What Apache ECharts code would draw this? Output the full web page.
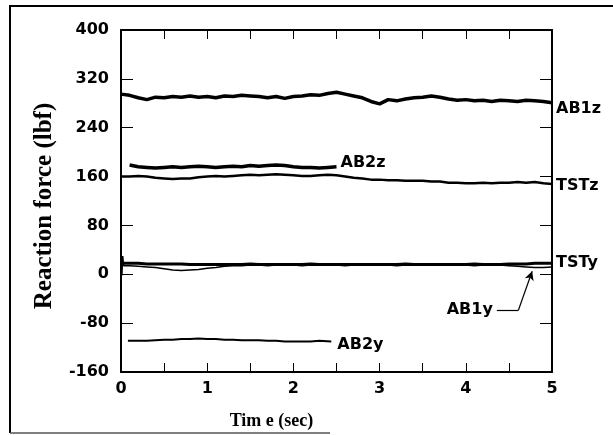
<!DOCTYPE html>
<html>
<head>
<meta charset="utf-8">
<script src="https://cdn.jsdelivr.net/npm/echarts@6/dist/echarts.min.js"></script>
<style>
html,body{margin:0;padding:0;background:#fff;}
#chart{width:613px;height:435px;}
</style>
</head>
<body>
<div id="chart"></div>
<script>
// Time grid (sec)
var times = [0,0.1,0.2,0.3,0.4,0.5,0.6,0.7,0.8,0.9,1.0,1.1,1.2,1.3,1.4,1.5,1.6,1.7,1.8,1.9,2.0,2.1,2.2,2.3,2.4,2.5,2.6,2.7,2.8,2.9,3.0,3.1,3.2,3.3,3.4,3.5,3.6,3.7,3.8,3.9,4.0,4.1,4.2,4.3,4.4,4.5,4.6,4.7,4.8,4.9,5.0];

// Series values (lbf)
var AB1z = [295,293,289,286,290,289,291,290,292,290,291,289,292,291,293,292,291,289,291,288,291,292,294,293,296,298,295,292,289,283,279,286,284,287,289,290,292,290,287,285,286,284,285,283,285,284,283,285,284,283,281];
var TSTz = [160,160,161,160,158,157,156,157,157,159,160,161,160,161,162,163,162,163,164,163,162,161,161,162,163,162,160,158,157,155,155,154,154,153,153,153,152,152,150,150,149,149,150,149,150,150,151,150,151,149,148];
var TSTy = [18,18,18,17,17,17,17,17,16,16,16,16,16,16,16,17,16,16,16,16,16,16,17,16,16,16,16,16,16,16,16,16,16,17,16,16,16,16,16,16,16,17,16,16,16,17,17,17,18,18,18];
var AB1y = [14,14,13,12,11,9,7,6,7,8,10,11,13,14,14,15,15,14,15,15,15,14,15,15,15,15,14,15,15,15,15,15,14,15,15,15,15,15,15,15,15,14,15,15,15,14,13,12,11,11,12];
var AB1ySpikeT = [0,0.01,0.02,0.03];
var AB1ySpikeV = [38,-2,30,14];

var AB2zTimes = [0.1,0.2,0.3,0.4,0.5,0.6,0.7,0.8,0.9,1.0,1.1,1.2,1.3,1.4,1.5,1.6,1.7,1.8,1.9,2.0,2.1,2.2,2.3,2.4,2.5];
var AB2z = [179,176,175,174,175,176,175,176,177,176,175,176,177,176,178,177,178,179,178,176,175,175,174,175,176];

var AB2yTimes = [0.08,0.2,0.3,0.4,0.5,0.6,0.7,0.8,0.9,1.0,1.1,1.2,1.3,1.4,1.5,1.6,1.7,1.8,1.9,2.0,2.1,2.2,2.3,2.44];
var AB2y = [-109,-109,-109,-108,-107,-107,-106,-106,-105,-106,-106,-107,-107,-108,-108,-108,-109,-109,-110,-110,-110,-110,-109,-110];

// Axis ticks
var xTicks = ['0','1','2','3','4','5'];
var yTicks = ['-160','-80','0','80','160','240','320','400'];

// AB1y annotation leader (data coordinates)
var ab1yLeaderStart = [4.36,-59];
var ab1yLeaderBend = [4.61,-59];
var ab1yLeaderTip = [4.77,5];

function pairs(t, v){ return t.map(function(x,i){ return [x, v[i]]; }); }

var tickFont = {fontFamily:'DejaVu Sans', fontWeight:'bold', fontSize:16, color:'#000'};
var lblFont = {fontFamily:'DejaVu Sans', fontWeight:'bold', fontSize:16, color:'#000'};

function line(name, data, width, endLabel){
  var s = {
    name:name, type:'line', data:data, symbol:'none', smooth:false,
    lineStyle:{color:'#000', width:width}, z:3, silent:true, animation:false
  };
  if (endLabel) {
    s.endLabel = Object.assign({show:true, formatter:name, distance:4}, lblFont, endLabel);
  }
  return s;
}

var chart = echarts.init(document.getElementById('chart'));
chart.setOption({
  animation:false,
  backgroundColor:'#fff',
  grid:{left:121, top:30, right:61, bottom:62},
  xAxis:[{
    type:'value', min:0, max:5, interval:0.5, position:'bottom',
    axisLine:{show:true, onZero:false, lineStyle:{color:'#000', width:2}},
    axisTick:{show:true, inside:true, length:9, lineStyle:{color:'#000', width:1}},
    axisLabel:Object.assign({margin:9, formatter:function(v){ return (v % 1 === 0) ? xTicks[v] : ''; }}, tickFont),
    splitLine:{show:false},
    name:'Tim e (sec)', nameLocation:'middle', nameGap:40,
    nameTextStyle:{fontFamily:'Liberation Serif', fontWeight:'bold', fontSize:18, color:'#000', padding:[0,130,0,0]}
  },{
    type:'value', min:0, max:5, interval:0.5, position:'top',
    axisLine:{show:true, onZero:false, lineStyle:{color:'#000', width:2}},
    axisTick:{show:true, inside:true, length:9, lineStyle:{color:'#000', width:1}},
    axisLabel:{show:false}, splitLine:{show:false}
  }],
  yAxis:[{
    type:'value', min:-160, max:400, interval:80, position:'left',
    axisLine:{show:true, onZero:false, lineStyle:{color:'#000', width:2}},
    axisTick:{show:true, inside:true, length:12, lineStyle:{color:'#000', width:1}},
    axisLabel:Object.assign({margin:12, formatter:function(v){ return yTicks[(v+160)/80]; }}, tickFont),
    splitLine:{show:false},
    name:'Reaction force (lbf)', nameLocation:'middle', nameGap:64,
    nameTextStyle:{fontFamily:'Liberation Serif', fontWeight:'bold', fontSize:25, color:'#000', padding:[0,10,0,0]}
  },{
    type:'value', min:-160, max:400, interval:80, position:'right',
    axisLine:{show:true, onZero:false, lineStyle:{color:'#000', width:2}},
    axisTick:{show:true, inside:true, length:12, lineStyle:{color:'#000', width:1}},
    axisLabel:{show:false}, splitLine:{show:false}
  }],
  series:[
    line('AB1z', pairs(times, AB1z), 3.5, {offset:[0,6]}),
    line('AB2z', pairs(AB2zTimes, AB2z), 3.5, {offset:[0,-4]}),
    line('TSTz', pairs(times, TSTz), 2.5, {offset:[0,2]}),
    line('TSTy', pairs(times, TSTy), 3, {offset:[0,0]}),
    line('AB2y', pairs(AB2yTimes, AB2y), 2, {offset:[2,3]}),
    (function(){
      var s = line('AB1y', pairs(AB1ySpikeT.concat(times.slice(1)), AB1ySpikeV.concat(AB1y.slice(1))), 1.5, null);
      s.markLine = {
        silent:true, animation:false, symbolSize:[7,9],
        lineStyle:{color:'#000', width:1.2, type:'solid'},
        data:[
          [{coord:ab1yLeaderStart, symbol:'none',
            label:Object.assign({show:true, position:'start', formatter:'AB1y', distance:4}, lblFont)},
           {coord:ab1yLeaderBend, symbol:'none'}],
          [{coord:ab1yLeaderBend, symbol:'none', label:{show:false}},
           {coord:ab1yLeaderTip, symbol:'arrow'}]
        ]
      };
      return s;
    })()
  ],
  graphic:[
    {type:'line', shape:{x1:10, y1:6, x2:613, y2:6}, style:{stroke:'#000', lineWidth:2}, silent:true},
    {type:'line', shape:{x1:10, y1:5, x2:10, y2:433}, style:{stroke:'#000', lineWidth:2}, silent:true},
    {type:'line', shape:{x1:10, y1:433, x2:330, y2:433}, style:{stroke:'#555', lineWidth:1.5}, silent:true}
  ]
});
</script>
</body>
</html>
